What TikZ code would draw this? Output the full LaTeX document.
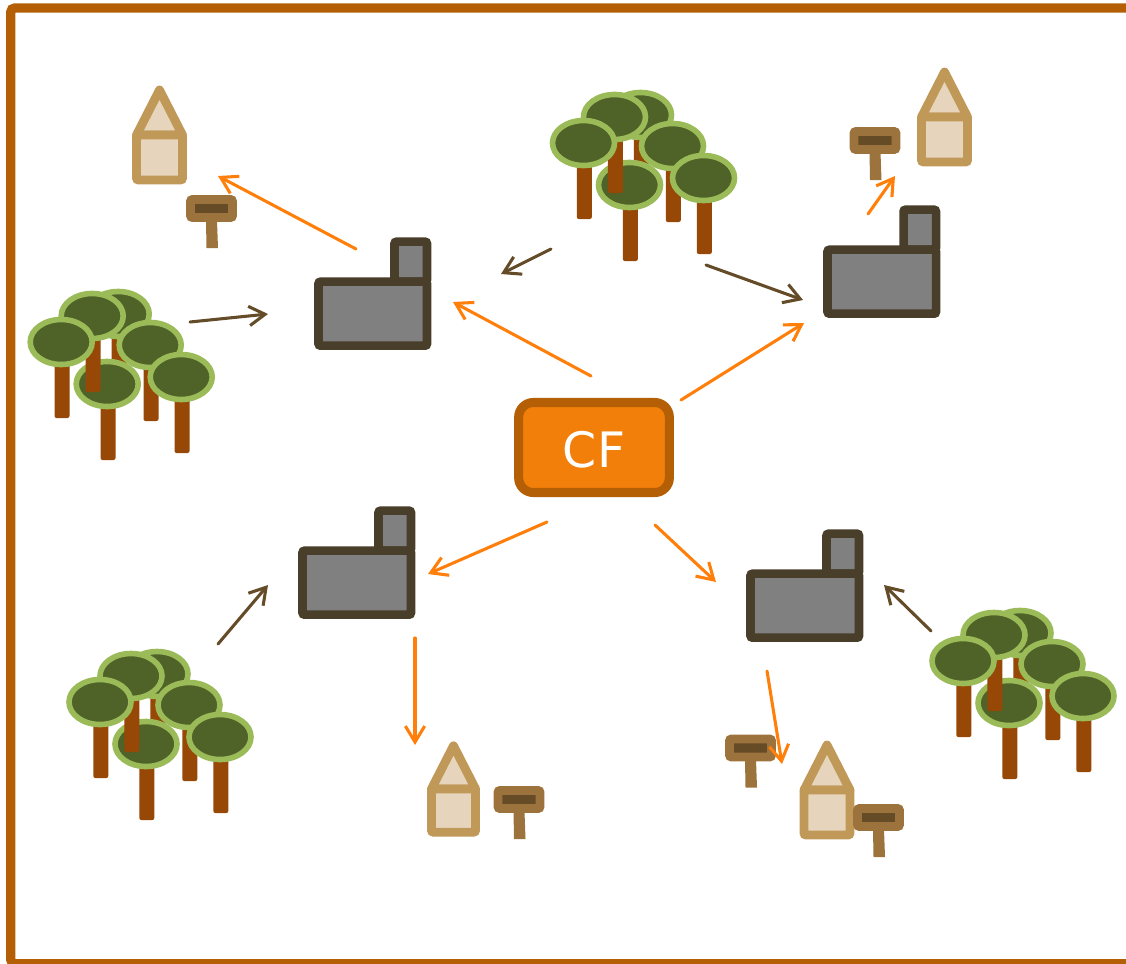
\documentclass[tikz,border=0pt]{standalone}
\usepackage{fontspec}
\setmainfont{DejaVu Sans}
\usetikzlibrary{arrows.meta}
\definecolor{edgeframe}{HTML}{B45F06}
\definecolor{cforange}{HTML}{F27F0A}
\definecolor{flowcol}{HTML}{FF7F0A}
\definecolor{inputcol}{HTML}{644C28}
\definecolor{plantline}{HTML}{483E2A}
\definecolor{leafline}{HTML}{9BBB59}
\definecolor{leaffill}{HTML}{4F6228}
\definecolor{barkcol}{HTML}{974806}
\definecolor{houseline}{HTML}{C09858}
\definecolor{housefill}{HTML}{E6D5BC}
\definecolor{signline}{HTML}{9C733C}
\definecolor{signfill}{HTML}{664C26}

\tikzset{
	cfbox/.style={draw=edgeframe,fill=cforange,line width=6.8pt,rounded corners=11pt,text=white,
		minimum width=113pt,minimum height=67.5pt,font=\fontsize{36.6}{36.6}\selectfont,
		text height=29.6pt,text depth=0pt},
	flow/.style={draw=flowcol,line width=2.3pt,line cap=round,-{Straight Barb[length=12pt,width=14.5pt]}},
	input/.style={draw=inputcol,line width=2.3pt,line cap=round,-{Straight Barb[length=12pt,width=14.5pt]}},
	pics/plant/.style={code={
		\draw[plantline,fill=gray,line width=6.4pt,rounded corners=1.5pt] (76,0) rectangle (108.5,-40);
		\draw[plantline,fill=gray,line width=6.4pt,rounded corners=1.5pt] (0,0) rectangle (108.5,64);
	}},
	pics/grove/.style={code={
		\foreach \x/\y in {57/-28,46/42,31/-26,0/0,89/3,120/35} {
			\fill[barkcol,rounded corners=1.5pt] (\x-6.7,\y) rectangle (\x+8.3,\y+76);
			\draw[leafline,fill=leaffill,line width=4.2pt] (\x,\y) ellipse (31 and 22.5);
		}
	}},
	pics/house/.style={code={
		\draw[houseline,fill=housefill,line width=6.6pt,line join=round] (-23,-49) -- (0,-94) -- (23,-49) -- cycle;
		\draw[houseline,fill=housefill,line width=6.6pt,rounded corners=1.5pt] (-23,-4) rectangle (23,-49);
	}},
	pics/sign/.style={code={
		\fill[signline] (-5.5,12) -- (5.5,12) -- (6.5,39.5) -- (-5,39.5) -- cycle;
		\draw[signline,fill=signfill,line width=6.6pt,rounded corners=1.5pt] (-21,-9) rectangle (21,9);
	}}
}

\begin{document}
\begin{tikzpicture}[x=0.75pt,y=-0.75pt]
\useasboundingbox (0,0) rectangle (1126,963);
\clip (0,0) rectangle (1126,963);

\draw[edgeframe,line width=7pt,rounded corners=3pt] (10.8,8) rectangle (1150,963.7);

\foreach \x/\y in {318.5/281.7,827.5/249.7,302.5/550.7,750.5/573.7}
	\pic at (\x,\y) {plant};
\foreach \x/\y in {61.2/342,583.5/143,100/702,963/661}
	\pic at (\x,\y) {grove};

\foreach \x/\y/\s in {159.5/184/1,944.5/166/1,453.5/836/.96,827/839/1}
	\pic[xscale=\s,yscale=\s] at (\x,\y) {house};
\foreach \x/\y in {211.5/208.5,875/140.5,519/799.5,750.5/748,878.5/817.5}
	\pic at (\x,\y) {sign};

\node[cfbox] (cf) at (594,447.5) {CF};

\foreach \l/\x/\y in {a1/356/249,a2/218/176,b1/591/376,b2/453/302,c1/681/400,c2/804/323,
	d1/868/214,d2/895/176,e1/547/522,e2/428/574,f1/655/525,f2/716/582,
	g1/415/638,g2/415/745,h1/767/671,h2/782/764,
	p1/190/322,p2/268/314,q1/551/249,q2/501/274,r1/706/265,r2/803/300,
	s1/218/644,s2/268/585,t1/931/631,t2/884/585}
	\coordinate (\l) at (\x,\y);

\foreach \a/\b in {a1/a2,b1/b2,c1/c2,d1/d2,e1/e2,f1/f2,g1/g2,h1/h2}
	\draw[flow] (\a)--(\b);
\foreach \a/\b in {p1/p2,q1/q2,r1/r2,s1/s2,t1/t2}
	\draw[input] (\a)--(\b);
\end{tikzpicture}
\end{document}
